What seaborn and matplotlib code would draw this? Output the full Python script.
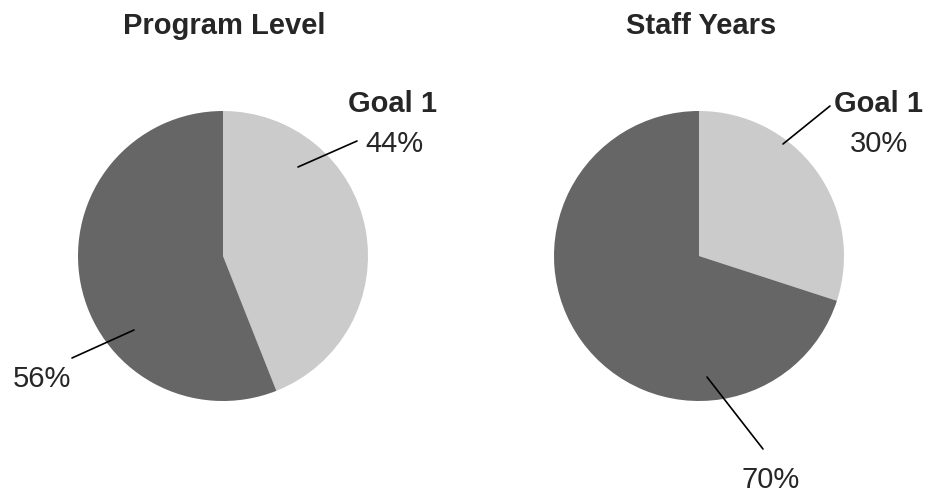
import matplotlib
matplotlib.use("Agg")
import matplotlib.pyplot as plt
import seaborn as sns

# ---- data ----
titles = ["Program Level", "Staff Years"]
categories = ["Goal 1", "Other"]
program_level = [44, 56]
staff_years = [30, 70]

sns.set_theme(style="white")
plt.rcParams["font.family"] = ["Liberation Sans", "DejaVu Sans"]

light = "#cbcbcb"
dark = "#666666"
H = 493

fig = plt.figure(figsize=(9.37, 4.93), dpi=100)
ax = fig.add_axes([0, 0, 1, 1])
ax.set_xlim(0, 937)
ax.set_ylim(0, H)
ax.set_aspect("equal")
ax.axis("off")

FS = 21

def Y(y):
    return H - y

# pie layouts (pixel positions of centers)
pies = [
    dict(vals=program_level, cx=223, cy=256, title=titles[0], tx=224),
    dict(vals=staff_years, cx=699, cy=256, title=titles[1], tx=701),
]
for p in pies:
    ax.pie(p["vals"], colors=[light, dark], startangle=90, counterclock=False,
           center=(p["cx"], Y(p["cy"])), radius=145, frame=True,
           wedgeprops=dict(linewidth=0))
    ax.text(p["tx"], Y(34), p["title"], ha="center", va="baseline",
            fontsize=FS, fontweight="bold")

ax.set_xlim(0, 937)
ax.set_ylim(0, H)
ax.axis("off")

def leader(x0, y0, x1, y1):
    ax.plot([x0, x1], [Y(y0), Y(y1)], color="black", lw=1.2)

# left pie labels
leader(298, 167, 357, 141)
ax.text(393, Y(112), categories[0], ha="center", va="baseline", fontsize=FS, fontweight="bold")
ax.text(394, Y(152), f"{program_level[0]}%", ha="center", va="baseline", fontsize=FS)
leader(134, 330, 72, 358)
ax.text(42, Y(387), f"{program_level[1]}%", ha="center", va="baseline", fontsize=FS)

# right pie labels
leader(783, 144, 830, 106)
ax.text(879, Y(112), categories[0], ha="center", va="baseline", fontsize=FS, fontweight="bold")
ax.text(879, Y(152), f"{staff_years[0]}%", ha="center", va="baseline", fontsize=FS)
leader(707, 377, 763, 449)
ax.text(771, Y(488), f"{staff_years[1]}%", ha="center", va="baseline", fontsize=FS)

fig.savefig("out.png", dpi=100)
